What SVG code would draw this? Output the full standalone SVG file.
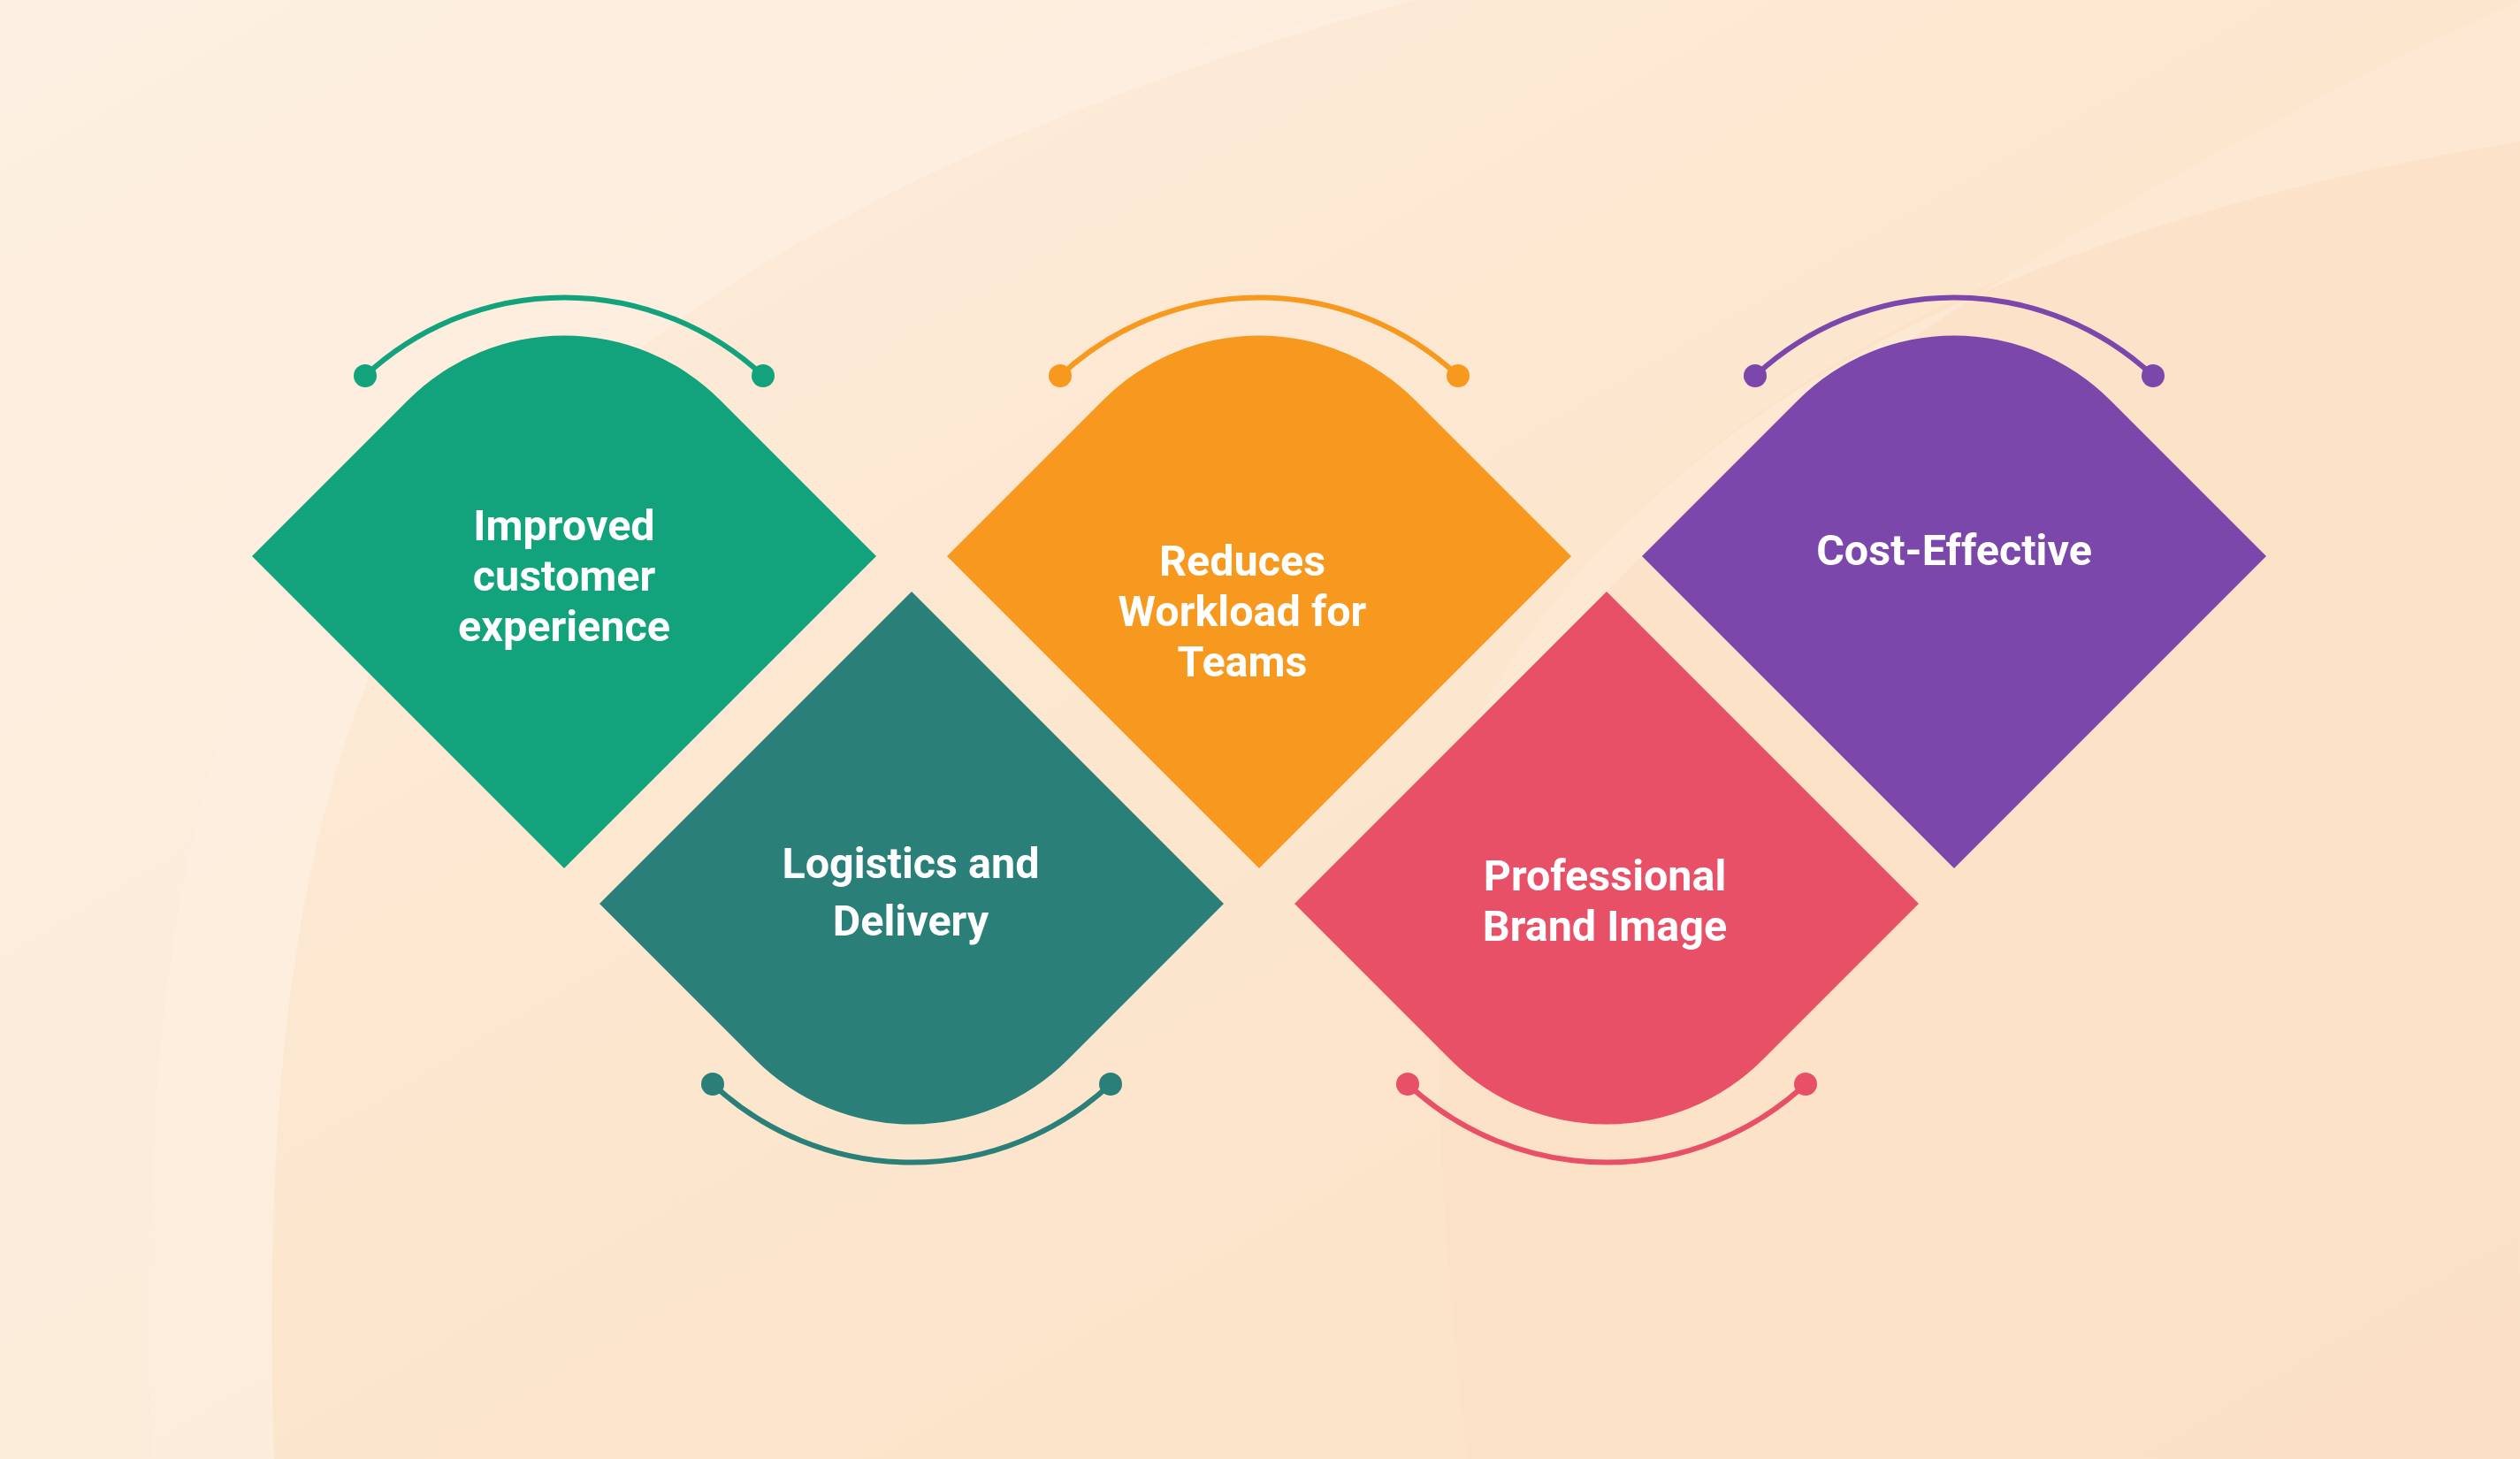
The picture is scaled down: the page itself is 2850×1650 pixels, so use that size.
<svg xmlns="http://www.w3.org/2000/svg" width="2850" height="1650" viewBox="0 0 2850 1650">
<defs>
<linearGradient id="bg" x1="0" y1="0" x2="1" y2="1">
<stop offset="0" stop-color="#FDEEDF"/>
<stop offset="0.5" stop-color="#FCE6CE"/>
<stop offset="1" stop-color="#FBE1C5"/>
</linearGradient>
<style>
.lbl{font-family:Roboto,"Liberation Sans",sans-serif;font-weight:700;font-size:48.5px;fill:#FFFFFF;text-anchor:middle}
.arc{fill:none;stroke-width:6;stroke-linecap:round}
</style>
</defs>
<rect width="2850" height="1650" fill="url(#bg)"/>
<g id="background-swooshes" opacity="0.55">
<path d="M1600 0 C1000 120 500 300 300 700 C180 950 160 1300 170 1650 L0 1650 L0 0 Z" fill="#FDF1E4"/>
<path d="M0 0 L1600 0 C1050 150 600 380 420 760 C320 1000 300 1300 310 1650 L170 1650 C160 1300 180 950 300 700 C500 300 1000 120 1600 0 Z" fill="#FEF3E8"/>
<path d="M2780 160 C2300 250 1900 450 1700 760 C1600 950 1620 1300 1660 1650 L2850 1650 L2850 160 Z" fill="#FBE0C4"/>
<path d="M2850 0 L2850 160 C2300 250 1900 450 1700 760 C1650 840 1640 900 1640 960 C1700 700 2100 350 2850 0 Z" fill="#FDEBD8"/>
</g>
<g id="connectors">
<path class="arc" stroke="#12A27C" d="M413 425 A330 330 0 0 1 863 425"/>
<path class="arc" stroke="#F7991F" d="M1199 425 A330 330 0 0 1 1649 425"/>
<path class="arc" stroke="#7B47AB" d="M1985 425 A330 330 0 0 1 2435 425"/>
<path class="arc" stroke="#2A7F79" d="M806 1226 A330 330 0 0 0 1256 1226"/>
<path class="arc" stroke="#E85067" d="M1592 1226 A330 330 0 0 0 2042 1226"/>
</g>
<g id="node-improved">
<path fill="#12A27C" d="M285 629 L461.5 452.5 A249.6 249.6 0 0 1 814.5 452.5 L991 629 L638 982 Z"/>
<circle cx="413" cy="425" r="13" fill="#12A27C"/>
<circle cx="863" cy="425" r="13" fill="#12A27C"/>
<text class="lbl" x="638" y="611">Improved</text>
<text class="lbl" x="638" y="668">customer</text>
<text class="lbl" x="638" y="725">experience</text>
</g>
<g id="node-logistics">
<path fill="#2A7F79" d="M678 1022 L1031 669 L1384 1022 L1207.5 1198.5 A249.6 249.6 0 0 1 854.5 1198.5 Z"/>
<circle cx="806" cy="1226" r="13" fill="#2A7F79"/>
<circle cx="1256" cy="1226" r="13" fill="#2A7F79"/>
<text class="lbl" x="1030" y="993">Logistics and</text>
<text class="lbl" x="1030" y="1058">Delivery</text>
</g>
<g id="node-reduces">
<path fill="#F7991F" d="M1071 629 L1247.5 452.5 A249.6 249.6 0 0 1 1600.5 452.5 L1777 629 L1424 982 Z"/>
<circle cx="1199" cy="425" r="13" fill="#F7991F"/>
<circle cx="1649" cy="425" r="13" fill="#F7991F"/>
<text class="lbl" x="1405" y="651">Reduces</text>
<text class="lbl" x="1405" y="708">Workload for</text>
<text class="lbl" x="1405" y="765">Teams</text>
</g>
<g id="node-professional">
<path fill="#E85067" d="M1464 1022 L1817 669 L2170 1022 L1993.5 1198.5 A249.6 249.6 0 0 1 1640.5 1198.5 Z"/>
<circle cx="1592" cy="1226" r="13" fill="#E85067"/>
<circle cx="2042" cy="1226" r="13" fill="#E85067"/>
<text class="lbl" x="1815" y="1007">Professional</text>
<text class="lbl" x="1815" y="1064">Brand Image</text>
</g>
<g id="node-cost">
<path fill="#7B47AB" d="M1857 629 L2033.5 452.5 A249.6 249.6 0 0 1 2386.5 452.5 L2563 629 L2210 982 Z"/>
<circle cx="1985" cy="425" r="13" fill="#7B47AB"/>
<circle cx="2435" cy="425" r="13" fill="#7B47AB"/>
<text class="lbl" x="2210" y="639">Cost-Effective</text>
</g>
</svg>
